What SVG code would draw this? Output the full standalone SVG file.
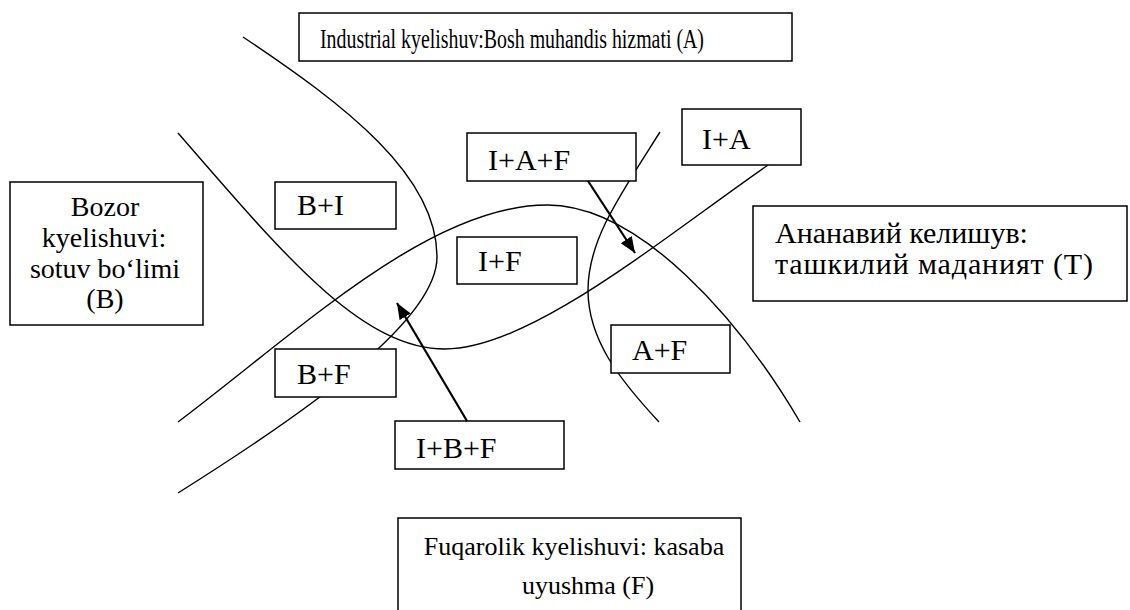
<svg xmlns="http://www.w3.org/2000/svg" width="1130" height="610" viewBox="0 0 1130 610" font-family="'Liberation Serif', 'Times New Roman', serif">
<style>
.bg{fill:#fff}
.box{fill:#fff;stroke:#000;stroke-width:1.5}
.curve{fill:none;stroke:#000;stroke-width:1.4}
.arrow{fill:none;stroke:#000;stroke-width:2.2}
.t{font-family:'Liberation Serif','Times New Roman',serif;fill:#000}
.lbl{font-size:30px}
.big{font-size:28px}
.cyr{font-size:30px}
.mid{font-size:26px}
</style>
<defs>
<marker id="ah" markerUnits="userSpaceOnUse" markerWidth="18" markerHeight="14" refX="16" refY="6.5" orient="auto">
<path d="M0,0 L16,6.5 L0,13 Z" fill="#000"/>
</marker>
</defs>
<rect class="bg" x="0" y="0" width="1130" height="610"/>
<g id="connectors">
<path class="curve" d="M243,37 C345,105 437,175 437,257 C437,320 310,410 178,493"/>
<path class="curve" d="M178,133 C280,250 360,349 445,349 C530,349 660,240 768,165"/>
<path class="curve" d="M178,422 C300,330 430,205 547,205 C640,205 740,320 800,422"/>
<path class="curve" d="M660,132 C620,195 588,240 588,290 C588,340 620,380 659,422"/>
</g>
<g id="node-A">
<rect class="box" x="299" y="13" width="493" height="48"/>
<text class="t" x="320" y="48" font-size="27" textLength="384" lengthAdjust="spacingAndGlyphs">Industrial kyelishuv:Bosh muhandis hizmati  (A)</text>
</g>
<g id="node-B">
<rect class="box" x="10" y="182" width="193" height="143"/>
<text class="t big" text-anchor="middle"><tspan x="105" y="216">Bozor</tspan><tspan x="104" y="247">kyelishuvi:</tspan><tspan x="105" y="278">sotuv bo‘limi</tspan><tspan x="105" y="308">(B)</tspan></text>
</g>
<g id="node-T">
<rect class="box" x="753" y="206" width="374" height="95"/>
<text class="t cyr" x="775" y="243">Ананавий келишув:</text>
<text class="t cyr" x="775" y="274" textLength="318" lengthAdjust="spacing">ташкилий маданият (T)</text>
</g>
<g id="node-F">
<rect class="box" x="398" y="518" width="343" height="100"/>
<text class="t mid" text-anchor="middle"><tspan x="574" y="555">Fuqarolik kyelishuvi: kasaba</tspan><tspan x="588" y="594">uyushma (F)</tspan></text>
</g>
<g id="node-BI">
<rect class="box" x="275" y="182" width="121" height="47"/>
<text class="t lbl" x="297" y="215">B+I</text>
</g>
<g id="node-IAF">
<rect class="box" x="467" y="133" width="169" height="48"/>
<text class="t lbl" x="488" y="170">I+A+F</text>
</g>
<g id="node-IA">
<rect class="box" x="682" y="109" width="119" height="56"/>
<text class="t lbl" x="702" y="149">I+A</text>
</g>
<g id="node-IF">
<rect class="box" x="457" y="237" width="120" height="47"/>
<text class="t lbl" x="478" y="271">I+F</text>
</g>
<g id="node-AF">
<rect class="box" x="611" y="325" width="119" height="48"/>
<text class="t lbl" x="632" y="360">A+F</text>
</g>
<g id="node-BF">
<rect class="box" x="275" y="349" width="121" height="48"/>
<text class="t lbl" x="297" y="384">B+F</text>
</g>
<g id="node-IBF">
<rect class="box" x="395" y="421" width="169" height="48"/>
<text class="t lbl" x="416" y="458">I+B+F</text>
</g>
<g id="arrows">
<line class="arrow" x1="588" y1="181" x2="635" y2="253" marker-end="url(#ah)"/>
<line class="arrow" x1="467" y1="421" x2="397" y2="303" marker-end="url(#ah)"/>
</g>
</svg>
